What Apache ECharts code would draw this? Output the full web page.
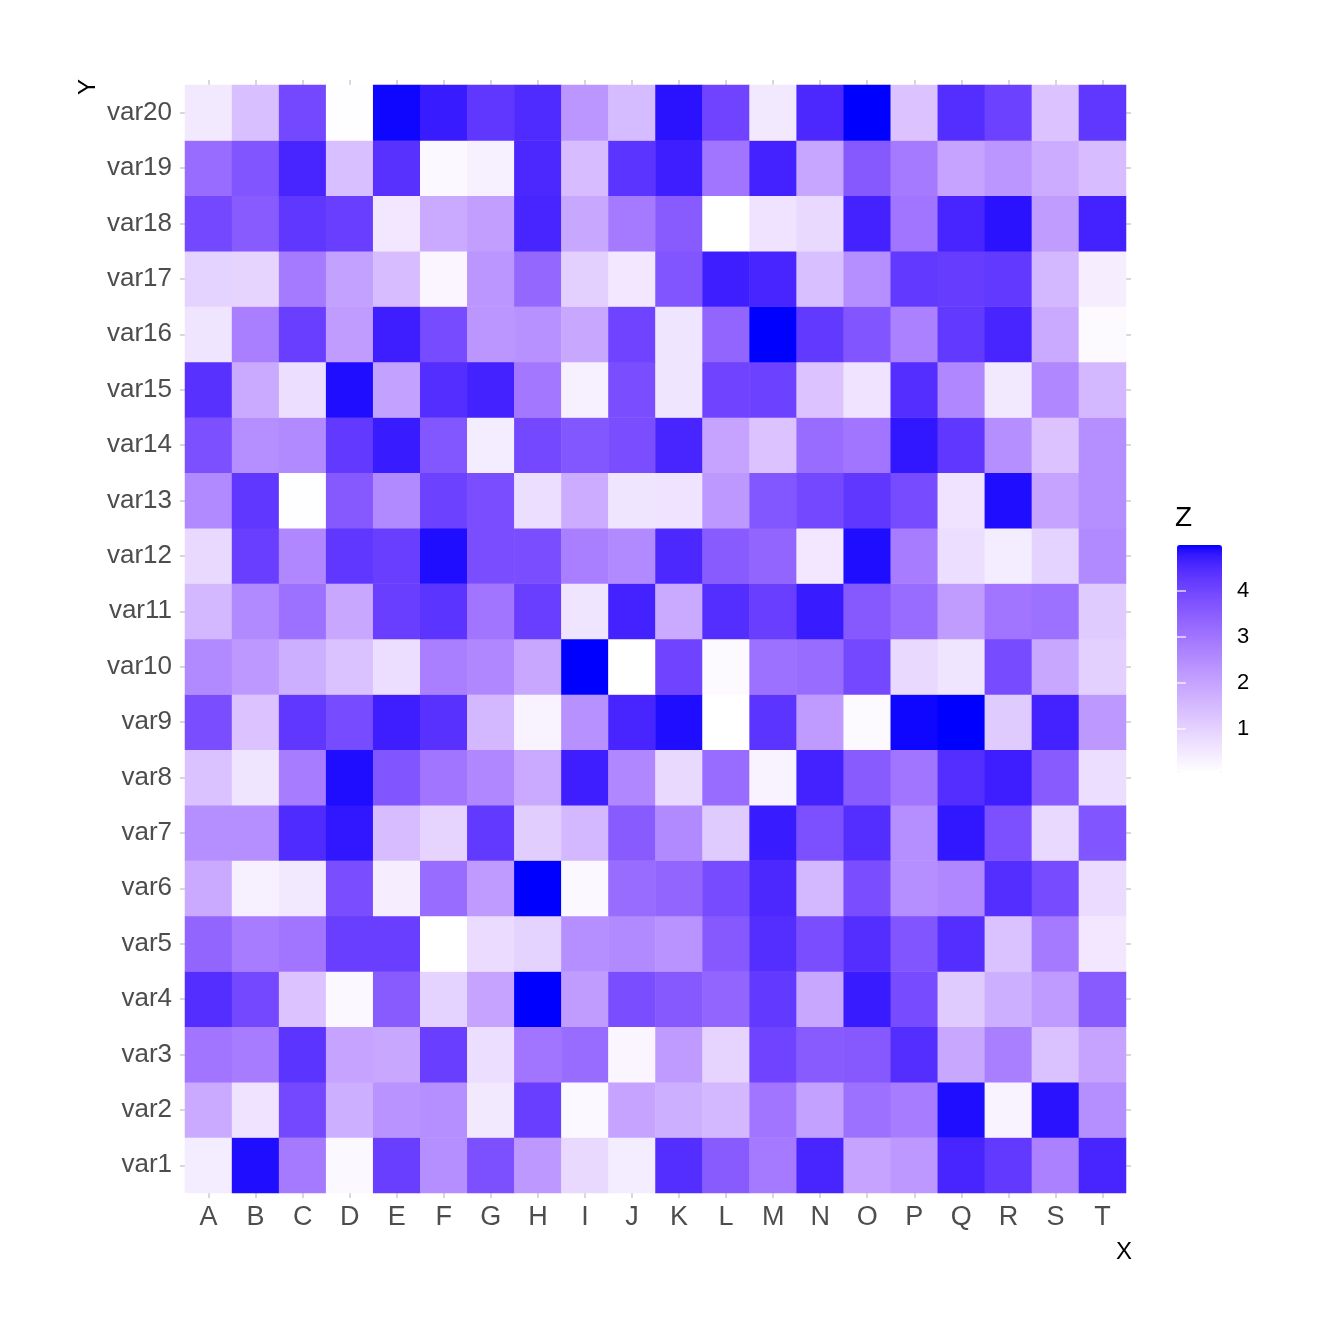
<!DOCTYPE html>
<html>
<head>
<meta charset="utf-8">
<script src="https://cdn.jsdelivr.net/npm/echarts@6/dist/echarts.min.js"></script>
<style>html,body{margin:0;padding:0;background:#fff}#c{width:1344px;height:1344px}</style>
</head>
<body>
<div id="c"></div>
<script>
const xCats = ['A','B','C','D','E','F','G','H','I','J','K','L','M','N','O','P','Q','R','S','T'];
const yCats = ['var1','var2','var3','var4','var5','var6','var7','var8','var9','var10','var11','var12','var13','var14','var15','var16','var17','var18','var19','var20'];
const zLimits = [0.05, 5];
const legendTicks = [1, 2, 3, 4];

const var1  = [0.45,4.9,2.9,0.2,4.15,2.45,3.8,2.25,0.85,0.45,4.45,3.55,2.9,4.6,2.0,2.25,4.6,4.25,2.75,4.6];
const var2  = [1.85,0.65,3.95,1.75,2.35,2.45,0.5,4.15,0.2,2.0,1.75,1.55,3.0,2.05,3.1,2.85,4.9,0.3,4.85,2.45];
const var3  = [3.0,2.85,4.35,2.0,1.9,4.15,0.75,3.0,3.2,0.25,2.2,0.95,4.05,3.55,3.6,4.45,1.9,2.8,1.35,2.0];
const var4  = [4.45,3.95,1.3,0.2,3.55,1.0,2.0,5.0,2.15,3.85,3.6,3.35,4.25,1.9,4.75,3.9,1.15,1.75,2.2,3.55];
const var5  = [3.35,2.85,3.0,4.15,4.15,0.05,0.8,1.0,2.45,2.55,2.35,3.6,4.45,3.85,4.45,3.7,4.45,1.35,2.9,0.55];
const var6  = [1.85,0.35,0.5,3.85,0.4,3.2,2.2,5.0,0.2,3.2,3.35,3.9,4.55,1.55,3.85,2.45,2.6,4.45,3.9,0.8];
const var7  = [2.45,2.45,4.5,4.8,1.45,0.95,4.25,1.1,1.55,3.55,2.55,1.15,4.75,3.8,4.45,2.45,4.8,3.8,0.85,3.7];
const var8  = [1.35,0.6,2.85,4.9,3.7,3.0,2.6,1.85,4.7,2.6,0.85,3.2,0.3,4.65,3.55,3.0,4.45,4.7,3.55,0.75];
const var9  = [3.85,1.3,4.3,3.9,4.7,4.4,1.55,0.3,2.4,4.6,4.9,0.05,4.35,2.2,0.15,4.95,5.0,1.15,4.65,2.25];
const var10 = [2.55,2.25,1.75,1.35,0.75,2.8,2.6,1.9,5.0,0.05,4.05,0.15,3.1,3.2,3.95,0.85,0.6,3.9,1.9,1.05];
const var11 = [1.55,2.55,3.1,1.9,4.15,4.35,3.0,4.15,0.6,4.65,1.85,4.45,4.15,4.75,3.6,3.2,2.15,3.0,3.1,1.15];
const var12 = [0.85,4.15,2.6,4.3,4.15,4.9,3.85,3.85,2.8,2.55,4.55,3.55,3.35,0.55,4.9,2.85,0.75,0.45,1.0,2.55];
const var13 = [2.55,4.3,0.1,3.6,2.55,4.1,3.85,0.75,1.8,0.6,0.65,2.25,3.65,3.95,4.3,3.9,0.65,4.9,2.0,2.45];
const var14 = [3.8,2.45,2.55,4.25,4.75,3.65,0.45,3.95,3.65,3.85,4.6,2.0,1.3,3.2,3.0,4.8,4.3,2.45,1.3,2.45];
const var15 = [4.4,1.85,0.75,4.9,2.05,4.45,4.65,2.95,0.35,3.85,0.6,4.05,4.1,1.3,0.65,4.45,2.6,0.5,2.6,1.55];
const var16 = [0.6,2.8,4.15,2.15,4.7,3.9,2.3,2.4,1.9,4.05,0.6,3.35,5.0,4.25,3.7,2.75,4.25,4.6,1.85,0.15];
const var17 = [1.0,0.95,2.9,2.05,1.45,0.25,2.3,3.3,1.05,0.55,3.7,4.7,4.6,1.4,2.45,4.25,4.2,4.25,1.55,0.4];
const var18 = [3.95,3.55,4.3,4.15,0.55,1.85,2.1,4.6,1.9,2.9,3.55,0.05,0.65,0.85,4.65,3.0,4.6,4.85,2.15,4.65];
const var19 = [3.2,3.7,4.6,1.4,4.4,0.2,0.35,4.55,1.45,4.35,4.7,3.0,4.65,1.95,3.6,2.9,2.0,2.3,1.8,1.45];
const var20 = [0.5,1.4,3.95,0.1,4.95,4.75,4.3,4.5,2.3,1.5,4.85,4.05,0.5,4.55,5.0,1.3,4.45,4.1,1.3,4.3];

const rows = [var1,var2,var3,var4,var5,var6,var7,var8,var9,var10,var11,var12,var13,var14,var15,var16,var17,var18,var19,var20];

// colour ramp white -> blue interpolated in CIE Lab (like ggplot2)
function lab2hex(L, a, b) {
  const fy = (L + 16) / 116, fx = fy + a / 500, fz = fy - b / 200;
  const finv = f => (f > 6/29 ? f*f*f : 3*(6/29)*(6/29)*(f - 4/29));
  const X = 0.95047 * finv(fx), Y = finv(fy), Z = 1.08883 * finv(fz);
  let r = 3.2406*X - 1.5372*Y - 0.4986*Z;
  let g = -0.9689*X + 1.8758*Y + 0.0415*Z;
  let bl = 0.0557*X - 0.2040*Y + 1.0570*Z;
  const gam = c => { c = Math.max(0, Math.min(1, c)); return c <= 0.0031308 ? 12.92*c : 1.055*Math.pow(c, 1/2.4) - 0.055; };
  const h = c => ('0' + Math.round(gam(c)*255).toString(16)).slice(-2);
  return '#' + h(r) + h(g) + h(bl);
}
const ramp = [];
for (let i = 0; i <= 40; i++) {
  const t = i / 40;
  ramp.push(lab2hex(100 + (32.30 - 100)*t, 79.19*t, -107.86*t));
}

const data = [];
rows.forEach((r, yi) => r.forEach((v, xi) => data.push([xi, yi, v])));

const labFont = "'Liberation Sans', Arial, sans-serif";
const tickStyle = { show: true, alignWithLabel: true, length: 5, lineStyle: { color: '#cccccc', width: 1.5 } };

const chart = echarts.init(document.getElementById('c'), null, { renderer: 'canvas' });
chart.setOption({
  animation: false,
  backgroundColor: '#ffffff',
  grid: [
    { left: 185, top: 85, width: 941, height: 1108 },
    { left: 1177, top: 545, width: 45, height: 228 }
  ],
  xAxis: [
    { type: 'category', data: xCats, gridIndex: 0, position: 'bottom', axisLine: { show: false }, axisTick: tickStyle,
      splitLine: { show: false }, axisLabel: { fontSize: 27, fontFamily: labFont, color: '#4d4d4d', margin: 11 } },
    { type: 'category', data: xCats, gridIndex: 0, position: 'top', axisLine: { show: false }, axisTick: tickStyle,
      splitLine: { show: false }, axisLabel: { show: false } },
    { type: 'value', gridIndex: 1, show: false, min: 0, max: 1 }
  ],
  yAxis: [
    { type: 'category', data: yCats, gridIndex: 0, position: 'left', axisLine: { show: false }, axisTick: tickStyle,
      splitLine: { show: false }, axisLabel: { fontSize: 26, fontFamily: labFont, color: '#4d4d4d', margin: 13 } },
    { type: 'category', data: yCats, gridIndex: 0, position: 'right', axisLine: { show: false }, axisTick: tickStyle,
      splitLine: { show: false }, axisLabel: { show: false } },
    { type: 'value', gridIndex: 1, position: 'right', min: zLimits[0], max: zLimits[1], z: 10,
      axisLine: { show: false }, splitLine: { show: false },
      axisTick: { show: true, inside: true, length: 9, customValues: legendTicks, lineStyle: { color: 'rgba(255,255,255,0.8)', width: 1.5 } },
      axisLabel: { show: true, customValues: legendTicks, fontSize: 22, fontFamily: labFont, color: '#000000', margin: 15 } },
    { type: 'value', gridIndex: 1, position: 'left', min: zLimits[0], max: zLimits[1], z: 10,
      axisLine: { show: false }, splitLine: { show: false },
      axisTick: { show: true, inside: true, length: 9, customValues: legendTicks, lineStyle: { color: 'rgba(255,255,255,0.8)', width: 1.5 } },
      axisLabel: { show: false } }
  ],
  visualMap: {
    type: 'continuous', min: zLimits[0], max: zLimits[1], dimension: 2, seriesIndex: 0,
    calculable: false, show: true, left: 1177, top: 545, itemWidth: 45, itemHeight: 228, padding: 0,
    text: null, inRange: { color: ramp }, hoverLink: false
  },
  graphic: [
    { type: 'text', x: 1124, y: 1252, style: { text: 'X', fontSize: 24, fontFamily: labFont, fill: '#000', align: 'center', verticalAlign: 'middle' } },
    { type: 'text', x: 88, y: 87, rotation: Math.PI / 2, style: { text: 'Y', fontSize: 24, fontFamily: labFont, fill: '#000', align: 'center', verticalAlign: 'middle' } },
    { type: 'text', x: 1175, y: 518, style: { text: 'Z', fontSize: 28, fontFamily: labFont, fill: '#000', align: 'left', verticalAlign: 'middle' } }
  ],
  series: [{
    type: 'heatmap', xAxisIndex: 0, yAxisIndex: 0, data: data,
    itemStyle: { borderWidth: 0 }, emphasis: { disabled: true }, progressive: 0
  }]
});
</script>
</body>
</html>
